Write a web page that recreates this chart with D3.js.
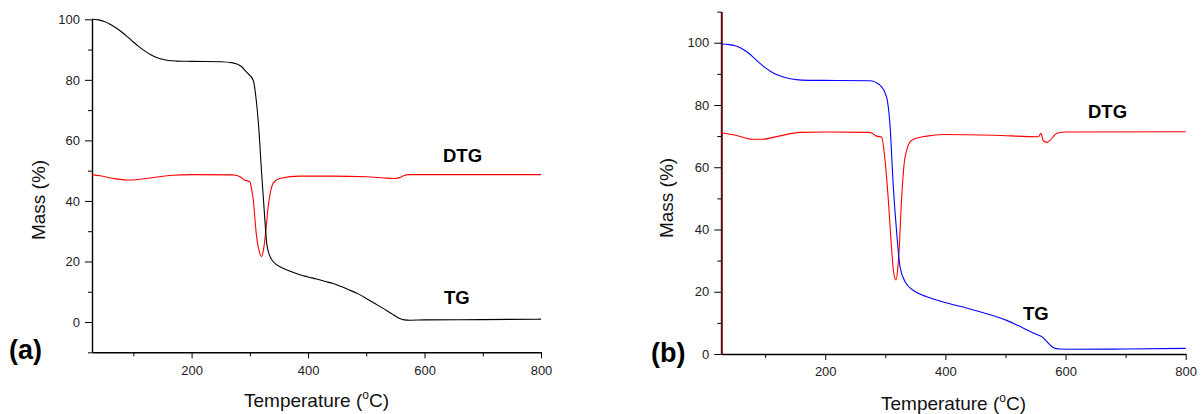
<!DOCTYPE html>
<html>
<head>
<meta charset="utf-8">
<script src="https://cdn.jsdelivr.net/npm/d3@7"></script>
<style>
  html, body { margin: 0; padding: 0; background: #fff; }
  svg { display: block; font-family: "Liberation Sans", Arial, Helvetica, sans-serif; }
</style>
</head>
<body>
<svg id="chart" width="1204" height="414"></svg>
<script>
// ---- Sample (a): thermogravimetric curve (TG) and its derivative (DTG) ----
const tempTgA = [29, 40, 50, 60, 70, 80, 90, 100, 110, 120, 130, 140, 150, 160, 175, 200, 250, 271, 285, 294, 306, 310, 315, 320, 325, 329, 333, 340, 357, 372, 386, 400, 415, 430, 443, 457, 471, 486, 500, 514, 529, 543, 557, 565, 575, 600, 700, 800];
const massTgA = [100, 99.8, 99.3, 98.4, 97.2, 95.8, 94.2, 92.5, 90.9, 89.5, 88.3, 87.4, 86.8, 86.4, 86.2, 86.1, 86.0, 85.6, 84.5, 82.6, 79.8, 75, 65, 50, 36, 26, 22.5, 20, 17.8, 16.6, 15.6, 14.9, 14.2, 13.4, 12.7, 11.7, 10.6, 9.3, 7.8, 6.2, 4.5, 2.8, 1.2, 0.7, 0.6, 0.7, 0.8, 0.95];

const tempDtgA = [29, 43, 70, 94, 129, 168, 200, 271, 285, 289, 300, 303, 306, 311, 316, 320, 324, 327, 331.5, 336, 340, 351.5, 386, 443, 500, 530, 546, 557, 565, 571.5, 800];
const massDtgA = [48.7, 48.3, 47.3, 46.9, 47.6, 48.5, 48.7, 48.6, 47.8, 47.1, 46.3, 44, 40.3, 29.3, 23.5, 21.6, 24.5, 29.3, 38, 43.5, 45.8, 47.4, 48.2, 48.2, 48.0, 47.6, 47.4, 47.7, 48.4, 48.7, 48.7];

// ---- Sample (b) ----
const tempTgB = [27, 40, 50, 60, 70, 80, 90, 100, 110, 120, 130, 140, 150, 160, 200, 274, 291, 302, 308, 313, 319, 324.5, 333, 347, 358, 369, 391, 410, 435, 469, 502, 530, 555, 561, 569, 580, 590, 602, 700, 800];
const massTgB = [99.6, 99.4, 99.0, 98.2, 97.0, 95.4, 93.6, 92.0, 90.7, 89.7, 89.0, 88.5, 88.2, 88.0, 87.9, 87.8, 86.4, 82.6, 73, 54.8, 38.8, 28, 23.2, 20.4, 19.2, 18.4, 17.0, 16.0, 14.8, 12.9, 10.8, 8.3, 6.0, 5.5, 4.0, 2.0, 1.6, 1.55, 1.6, 1.8];

const tempDtgB = [27, 51, 79, 95, 123, 158, 200, 274, 285.6, 294, 299.5, 305, 310.6, 314, 317.8, 320.5, 323, 327, 333, 344, 369, 397, 480, 555, 559, 563, 569, 574.5, 585.6, 602, 800];
const massDtgB = [71.1, 70.3, 69.0, 69.0, 70.0, 71.2, 71.3, 71.2, 70, 69.6, 62.3, 49.5, 33.4, 26, 23.8, 27, 33.4, 49.5, 63.4, 68.7, 70, 70.5, 70.3, 69.8, 70.9, 68.5, 68.0, 68.7, 70.9, 71.3, 71.4];

// Tick values
const xMajorTicks = [200, 400, 600, 800];
const xMinorTicks = [100, 300, 500, 700];
const yMajorTicksA = [0, 20, 40, 60, 80, 100];
const yMinorTicksA = [-10, 10, 30, 50, 70, 90];
const yMajorTicksB = [0, 20, 40, 60, 80, 100];
const yMinorTicksB = [10, 30, 50, 70, 90, 110];

const svg = d3.select("#chart");

function zip(xs, ys) { return xs.map((x, i) => [x, ys[i]]); }

function drawPanel(cfg) {
  const x = d3.scaleLinear().domain(cfg.xDomain).range(cfg.xRange);
  const y = d3.scaleLinear().domain(cfg.yDomain).range(cfg.yRange);
  const g = svg.append("g");

  // x axis: major ticks with labels, then unlabeled minor ticks
  const xAxisG = g.append("g").attr("transform", `translate(0,${cfg.yRange[0]})`);
  xAxisG.call(d3.axisBottom(x).tickValues(xMajorTicks).tickSize(6).tickPadding(7).tickSizeOuter(0));
  xAxisG.append("g").call(d3.axisBottom(x).tickValues(xMinorTicks).tickSize(4).tickFormat("").tickSizeOuter(0))
    .select(".domain").remove();
  xAxisG.select(".domain").attr("stroke", "#000").attr("stroke-width", 1.4);
  xAxisG.selectAll(".tick line").attr("stroke", "#000").attr("stroke-width", 1);
  xAxisG.selectAll(".tick text").attr("font-size", 13).attr("fill", "#222")
    .attr("font-family", "Liberation Sans, Arial, sans-serif");

  // y axis
  const yAxisG = g.append("g").attr("transform", `translate(${cfg.xRange[0]},0)`);
  yAxisG.call(d3.axisLeft(y).tickValues(cfg.yMajor).tickSize(7).tickPadding(5).tickSizeOuter(0));
  yAxisG.append("g").call(d3.axisLeft(y).tickValues(cfg.yMinor).tickSize(4).tickFormat("").tickSizeOuter(0))
    .select(".domain").remove();
  yAxisG.select(".domain").attr("stroke", cfg.yAxisColor).attr("stroke-width", cfg.yAxisWidth);
  yAxisG.selectAll(".tick line").attr("stroke", "#000").attr("stroke-width", 1);
  yAxisG.selectAll(".tick text").attr("font-size", 13).attr("fill", "#222")
    .attr("font-family", "Liberation Sans, Arial, sans-serif");

  const line = d3.line().x(d => x(d[0])).y(d => y(d[1])).curve(d3.curveMonotoneX);

  g.append("path").datum(zip(cfg.dtgT, cfg.dtgV))
    .attr("d", line).attr("fill", "none").attr("stroke", "#ff0000").attr("stroke-width", 1.1);
  g.append("path").datum(zip(cfg.tgT, cfg.tgV))
    .attr("d", line).attr("fill", "none").attr("stroke", cfg.tgColor).attr("stroke-width", 1.1);

  // axis titles
  g.append("text")
    .attr("transform", `translate(${cfg.yTitleX},${cfg.yTitleY}) rotate(-90)`)
    .attr("text-anchor", "middle").attr("font-size", 19).attr("fill", "#111")
    .text("Mass (%)");

  const xt = g.append("text")
    .attr("x", (cfg.xRange[0] + cfg.xRange[1]) / 2).attr("y", cfg.xTitleY)
    .attr("text-anchor", "middle").attr("font-size", 19).attr("fill", "#111");
  xt.append("tspan").text("Temperature (");
  xt.append("tspan").attr("font-size", 12).attr("dy", -8).text("o");
  xt.append("tspan").attr("dy", 8).text("C)");

  // curve labels
  g.append("text").attr("x", cfg.dtgLabel[0]).attr("y", cfg.dtgLabel[1])
    .attr("font-size", 18.5).attr("font-weight", "bold").attr("fill", "#000").text("DTG");
  g.append("text").attr("x", cfg.tgLabel[0]).attr("y", cfg.tgLabel[1])
    .attr("font-size", 18.5).attr("font-weight", "bold").attr("fill", "#000").text("TG");

  // panel letter
  g.append("text").attr("x", cfg.panelLabel[0]).attr("y", cfg.panelLabel[1])
    .attr("font-size", 27).attr("font-weight", "bold").attr("fill", "#000").text(cfg.name);
}

drawPanel({
  name: "(a)",
  xDomain: [29, 800], xRange: [92, 541],
  yDomain: [-10, 100], yRange: [352.3, 19.3],
  yMajor: yMajorTicksA, yMinor: yMinorTicksA,
  yAxisColor: "#000", yAxisWidth: 1.4,
  tgT: tempTgA, tgV: massTgA, tgColor: "#000",
  dtgT: tempDtgA, dtgV: massDtgA,
  yTitleX: 45, yTitleY: 200, xTitleY: 407,
  dtgLabel: [443, 162], tgLabel: [444, 304],
  panelLabel: [9, 359]
});

drawPanel({
  name: "(b)",
  xDomain: [27, 800], xRange: [721.3, 1185.7],
  yDomain: [0, 110], yRange: [354, 11.6],
  yMajor: yMajorTicksB, yMinor: yMinorTicksB,
  yAxisColor: "#5a0c0c", yAxisWidth: 2,
  tgT: tempTgB, tgV: massTgB, tgColor: "#0000ff",
  dtgT: tempDtgB, dtgV: massDtgB,
  yTitleX: 673, yTitleY: 198, xTitleY: 409.5,
  dtgLabel: [1088, 118], tgLabel: [1023, 320],
  panelLabel: [651, 362]
});
</script>
</body>
</html>
